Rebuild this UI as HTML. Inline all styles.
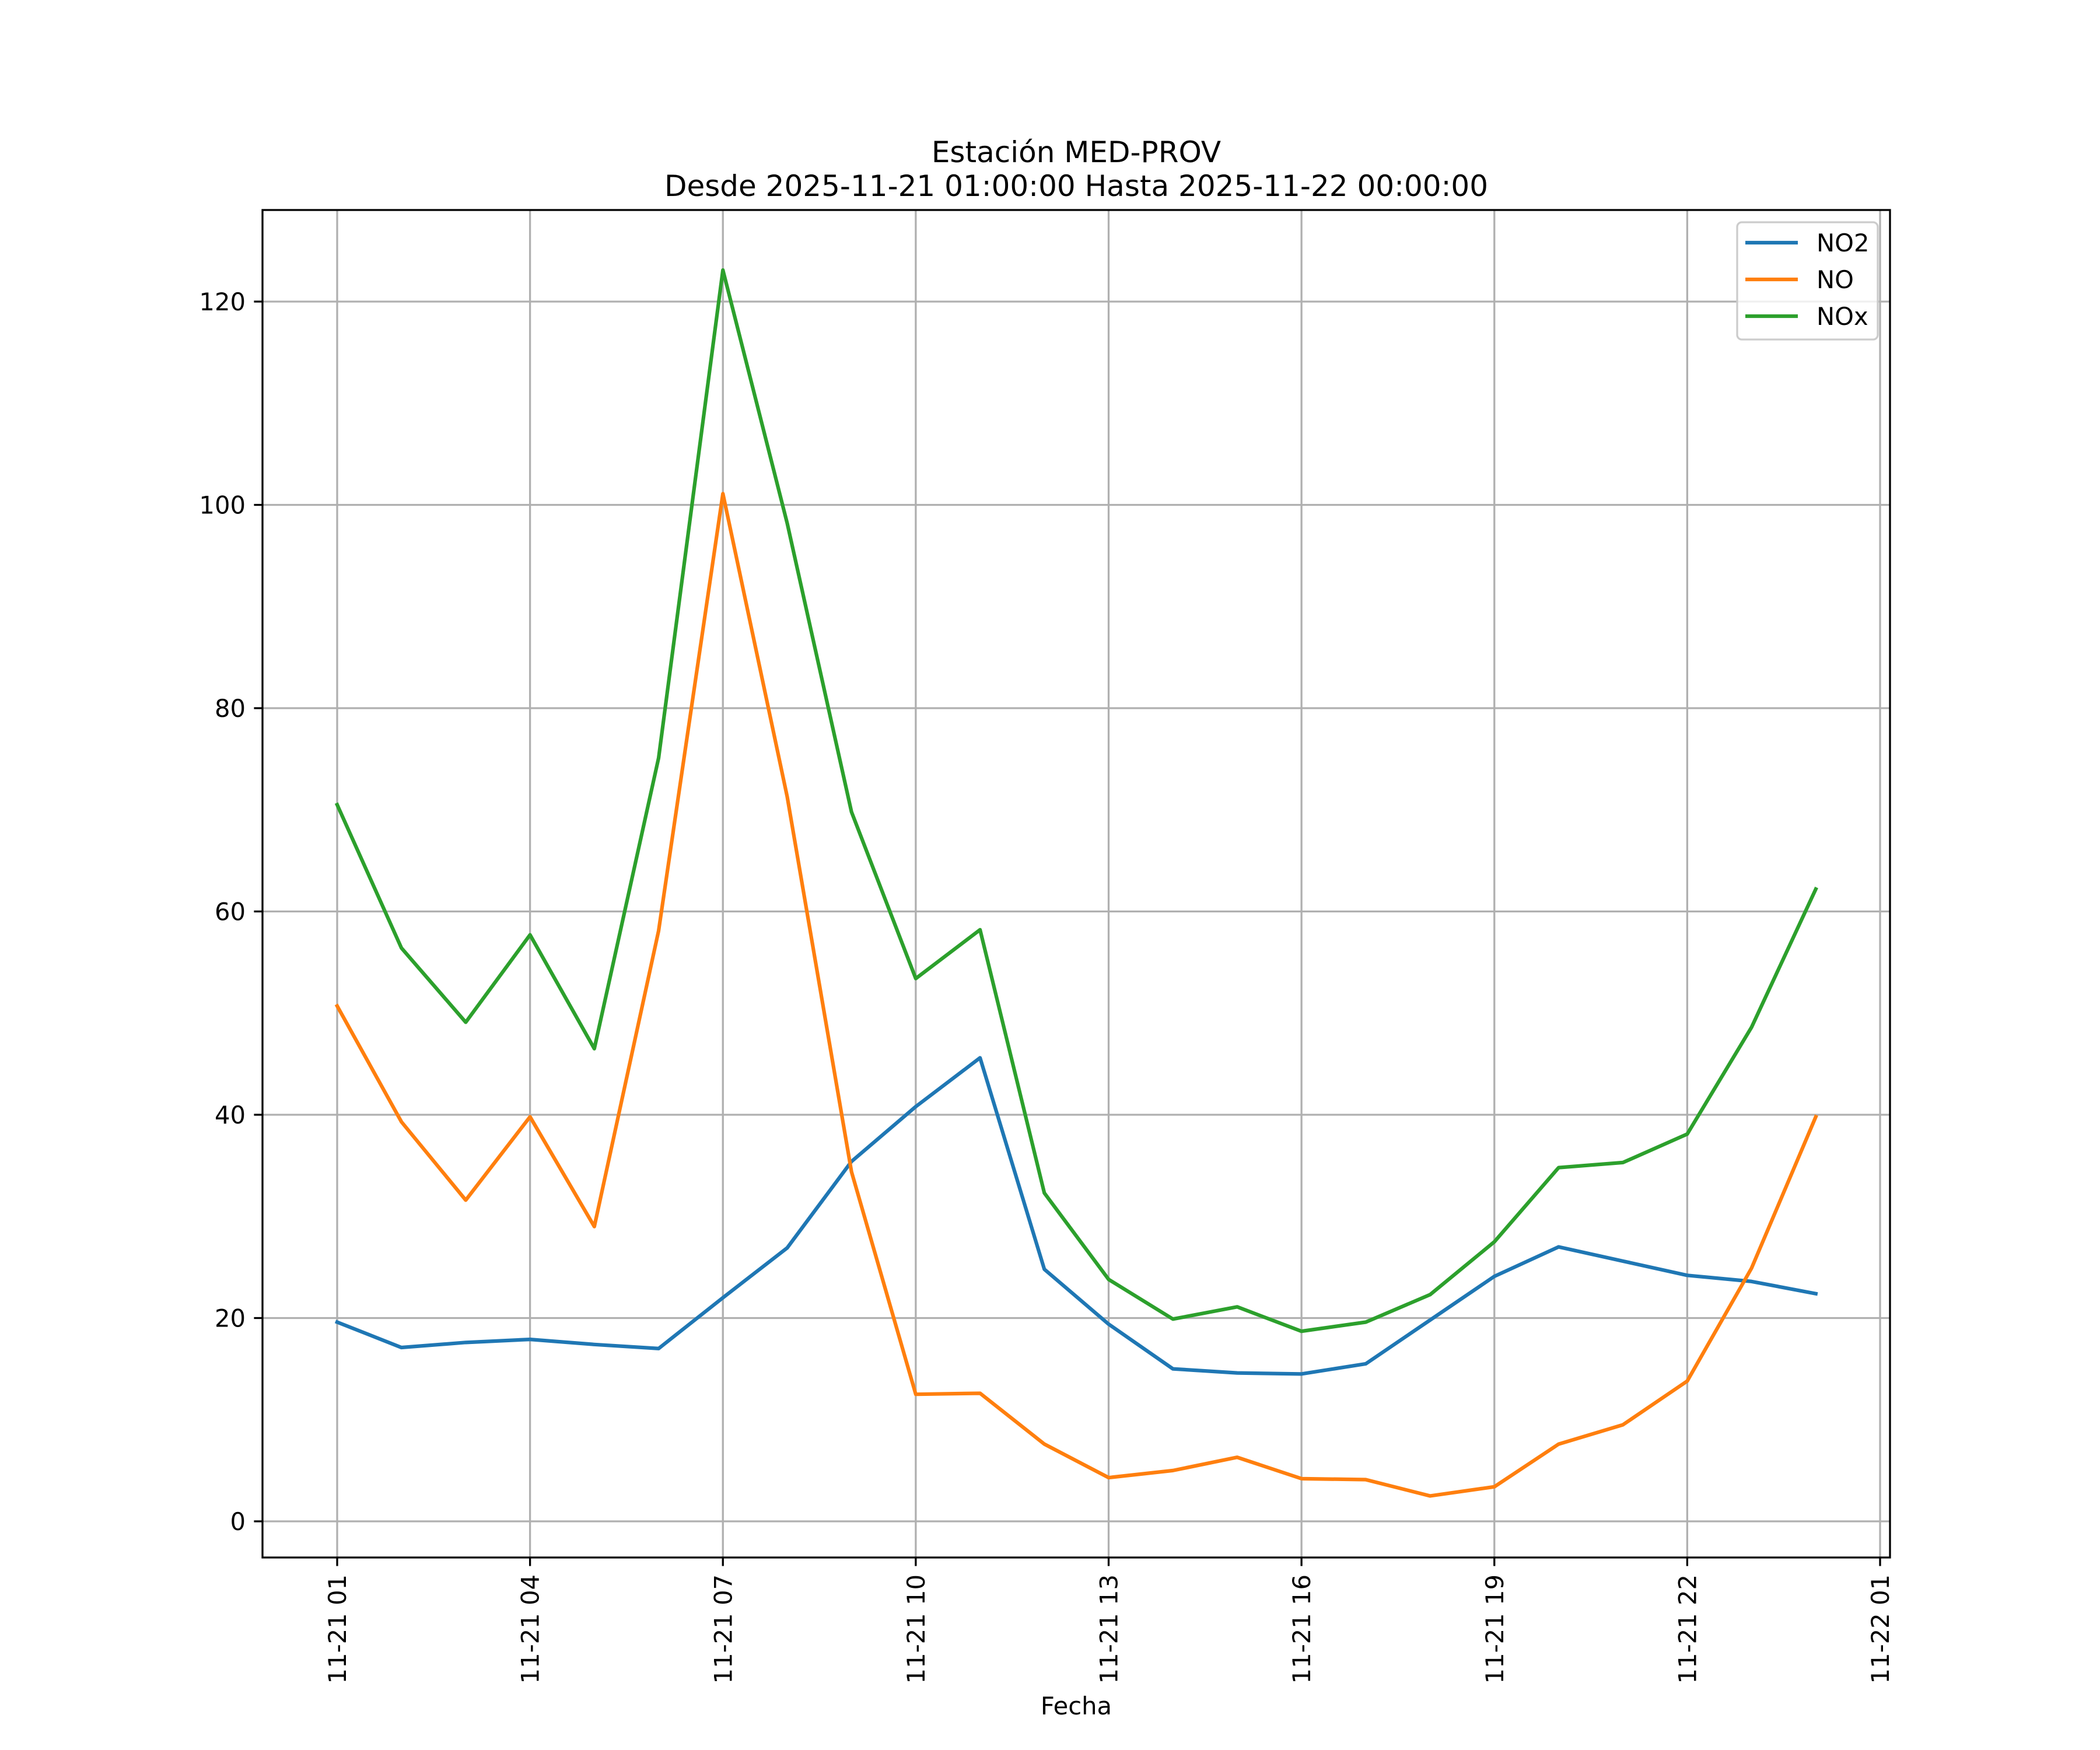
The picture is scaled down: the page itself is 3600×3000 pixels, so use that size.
<!DOCTYPE html>
<html><head><meta charset="utf-8"><style>
html,body{margin:0;padding:0;background:#fff}
svg{display:block;font-family:"DejaVu Sans","Liberation Sans",sans-serif}
</style></head><body>
<svg id="chart" width="3600" height="3000" viewBox="0 0 3600 3000" xmlns="http://www.w3.org/2000/svg">
<rect width="3600" height="3000" fill="#fff"/>
<g id="grid"></g>
<g id="series"></g>
<rect x="450" y="360" width="2790" height="2310" fill="none" stroke="#000" stroke-width="3.3"/>
<g id="ticks"></g>
<text x="1845" y="278" font-size="50" text-anchor="middle">Estación MED-PROV</text>
<text x="1845" y="336" font-size="50" text-anchor="middle">Desde 2025-11-21 01:00:00 Hasta 2025-11-22 00:00:00</text>
<text x="1845" y="2939" font-size="41.7" text-anchor="middle">Fecha</text>
<g id="legend"></g>
</svg>
<script>
const hours = [1,2,3,4,5,6,7,8,9,10,11,12,13,14,15,16,17,18,19,20,21,22,23,24];
const no2 = [19.6,17.1,17.6,17.9,17.4,17.0,22.0,26.9,35.4,40.8,45.6,24.8,19.4,15.0,14.6,14.5,15.5,19.8,24.1,27.0,25.6,24.2,23.6,22.4];
const no = [50.7,39.3,31.6,39.8,29.0,58.1,101.1,71.3,34.4,12.5,12.6,7.6,4.3,5.0,6.3,4.2,4.1,2.5,3.4,7.6,9.5,13.8,24.9,39.8];
const nox = [70.5,56.4,49.1,57.7,46.5,75.1,123.1,98.2,69.8,53.4,58.2,32.3,23.8,19.9,21.1,18.7,19.6,22.3,27.5,34.8,35.3,38.1,48.6,62.2];
const seriesNames = ["NO2","NO","NOx"];
const seriesColors = ["#1f77b4","#ff7f0e","#2ca02c"];
const xTickHours = [1,4,7,10,13,16,19,22,25];
const xTickLabels = ["11-21 01","11-21 04","11-21 07","11-21 10","11-21 13","11-21 16","11-21 19","11-21 22","11-22 01"];
const yTicks = [0,20,40,60,80,100,120];

const NS="http://www.w3.org/2000/svg";
const L=450,R=3240,T=360,B=2670;
const x=h=>578+(h-1)*(3223-578)/24;
const y=v=>2608-v*(2608-517)/120;
function mk(tag,attrs,parent){const e=document.createElementNS(NS,tag);for(const k in attrs)e.setAttribute(k,attrs[k]);parent.appendChild(e);return e;}
const grid=document.getElementById('grid'),ticks=document.getElementById('ticks'),ser=document.getElementById('series'),leg=document.getElementById('legend');
xTickHours.forEach((h,i)=>{
  const g=mk('line',{x1:x(h),x2:x(h),y1:T,y2:B,stroke:'#b0b0b0','stroke-width':3.3},grid);
  
  
  const t=mk('line',{x1:x(h),x2:x(h),y1:B,y2:B+14.6,stroke:'#000','stroke-width':3.3},ticks);
  
  
  const tx=mk('text',{x:0,y:0,'font-size':41.7,'text-anchor':'end',transform:`translate(${x(h)+15},${B+29}) rotate(-90)`},ticks);
  tx.textContent=xTickLabels[i];
  
  
});
yTicks.forEach(v=>{
  const g=mk('line',{x1:L,x2:R,y1:y(v),y2:y(v),stroke:'#b0b0b0','stroke-width':3.3},grid);
  
  
  const t=mk('line',{x1:L-14.6,x2:L,y1:y(v),y2:y(v),stroke:'#000','stroke-width':3.3},ticks);
  
  
  const tx=mk('text',{x:L-29,y:y(v)+15,'font-size':41.7,'text-anchor':'end'},ticks);
  tx.textContent=String(v);
  
  
});
[no2,no,nox].forEach((arr,i)=>{
  const p=mk('polyline',{points:arr.map((v,j)=>x(hours[j])+','+y(v)).join(' '),fill:'none',stroke:seriesColors[i],'stroke-width':6.25,'stroke-linejoin':'round','stroke-linecap':'square'},ser);
  
  
});
const box=mk('rect',{x:2978,y:381,width:241,height:201,rx:8,fill:'#fff','fill-opacity':0.8,stroke:'#cccccc','stroke-width':3.3},leg);


seriesNames.forEach((n,i)=>{
  const yy=416+i*63;
  const ln=mk('line',{x1:2992,x2:3082,y1:yy,y2:yy,stroke:seriesColors[i],'stroke-width':6.25},leg);
  
  
  const tx=mk('text',{x:3114,y:yy+15,'font-size':41.7},leg);
  tx.textContent=n;
  
  
});
</script>
</body></html>
